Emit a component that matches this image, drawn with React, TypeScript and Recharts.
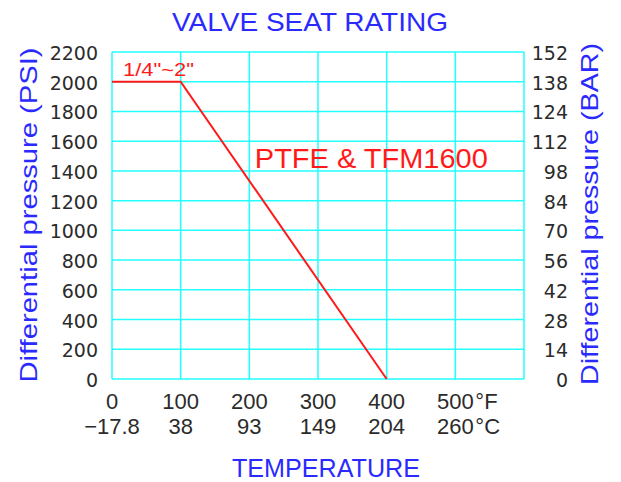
import { CartesianGrid, Line, LineChart, ReferenceDot, XAxis, YAxis } from "recharts";

// temperature axis (°F) and matching °C labels
const tempTicks = [0, 100, 200, 300, 400, 500, 600];
const tempF = ["0", "100", "200", "300", "400", "500"];
const tempC = ["\u221217.8", "38", "93", "149", "204", "260"];

// pressure axis (PSI) and matching BAR labels
const psiTicks = [0, 200, 400, 600, 800, 1000, 1200, 1400, 1600, 1800, 2000, 2200];
const barLabels = ["0", "14", "28", "42", "56", "70", "84", "98", "112", "124", "138", "152"];

// seat rating curve
const curveF = [0, 100, 400];
const curvePsi = [2000, 2000, 0];

const data = curveF.map((f, i) => ({ f, psi: curvePsi[i] }));

const BLUE = "#2a2aff";
const RED = "#ff1a1a";
const CYAN = "#22ffff";
const INK = "#2b2b2b";
const FONT = "'Liberation Sans', Arial, sans-serif";

function TempTick(props: any) {
  const { x, y, payload } = props;
  const i = tempTicks.indexOf(payload.value);
  if (i < 0 || i >= tempF.length) return null;
  const last = i === tempF.length - 1;
  return (
    <g fontFamily={FONT} fontSize={22} fill={INK}>
      <text x={x} y={y + 30} textAnchor="middle">{tempF[i]}</text>
      {last && <text x={x + 20} y={y + 30} textAnchor="start">°F</text>}
      <text x={x} y={y + 55} textAnchor="middle">{tempC[i]}</text>
      {last && <text x={x + 20} y={y + 55} textAnchor="start">°C</text>}
    </g>
  );
}

function PsiTick(props: any) {
  const { y, payload } = props;
  return (
    <text x={98} y={y + 8} textAnchor="end" fontFamily="'DejaVu Sans', sans-serif" fontSize={19} fill={INK}>
      {payload.value}
    </text>
  );
}

function BarTick(props: any) {
  const { y, payload } = props;
  const i = psiTicks.indexOf(payload.value);
  return (
    <text x={568} y={y + 8} textAnchor="end" fontFamily="'DejaVu Sans', sans-serif" fontSize={19} fill={INK}>
      {barLabels[i]}
    </text>
  );
}

export default function App() {
  return (
    <div style={{ position: "absolute", left: 0, top: 0, width: 621, height: 482, background: "#fff" }}>
      <LineChart width={621} height={482} data={data} margin={{ top: 52, right: 0, left: 0, bottom: 0 }}>
        <CartesianGrid yAxisId="left" stroke={CYAN} strokeWidth={1.5} />
        <XAxis
          dataKey="f"
          type="number"
          domain={[0, 600]}
          ticks={tempTicks}
          height={103}
          axisLine={false}
          tickLine={false}
          tickSize={0}
          tickMargin={0}
          tick={<TempTick />}
        />
        <YAxis
          yAxisId="left"
          domain={[0, 2200]}
          ticks={psiTicks}
          width={112}
          axisLine={false}
          tickLine={false}
          tick={<PsiTick />}
        />
        <YAxis
          yAxisId="right"
          orientation="right"
          domain={[0, 2200]}
          ticks={psiTicks}
          width={97}
          axisLine={false}
          tickLine={false}
          tick={<BarTick />}
        />
        {/* same curve on the BAR axis, kept invisible so that axis gets its ticks */}
        <Line
          yAxisId="right"
          dataKey="psi"
          type="linear"
          stroke="none"
          dot={false}
          activeDot={false}
          isAnimationActive={false}
        />
        <Line
          yAxisId="left"
          dataKey="psi"
          type="linear"
          stroke={RED}
          strokeWidth={2}
          dot={false}
          isAnimationActive={false}
        />
        <ReferenceDot
          yAxisId="left"
          x={16}
          y={2000}
          r={0}
          shape={(p: any) => (
            <text x={p.cx} y={p.cy - 6} fontFamily={FONT} fontSize={18} fill={RED} textLength={71} lengthAdjust="spacingAndGlyphs">
              1/4"~2"
            </text>
          )}
        />
        <ReferenceDot
          yAxisId="left"
          x={208}
          y={1420}
          r={0}
          shape={(p: any) => (
            <text x={p.cx} y={p.cy} fontFamily={FONT} fontSize={27} fill={RED} textLength={233} lengthAdjust="spacingAndGlyphs">
              PTFE &amp; TFM1600
            </text>
          )}
        />
      </LineChart>
      <svg width={621} height={482} style={{ position: "absolute", left: 0, top: 0, pointerEvents: "none" }}>
        <text x={310} y={31} textAnchor="middle" fontFamily={FONT} fontSize={26} fill={BLUE} textLength={276} lengthAdjust="spacingAndGlyphs">
          VALVE SEAT RATING
        </text>
        <text x={326} y={477} textAnchor="middle" fontFamily={FONT} fontSize={25} fill={BLUE} textLength={188} lengthAdjust="spacingAndGlyphs">
          TEMPERATURE
        </text>
        <text
          transform="translate(37 215) rotate(-90)"
          textAnchor="middle"
          fontFamily={FONT}
          fontSize={24}
          fill={BLUE}
          textLength={335}
          lengthAdjust="spacingAndGlyphs"
        >
          Differential pressure (PSI)
        </text>
        <text
          transform="translate(598 214) rotate(-90)"
          textAnchor="middle"
          fontFamily={FONT}
          fontSize={24}
          fill={BLUE}
          textLength={342}
          lengthAdjust="spacingAndGlyphs"
        >
          Differential pressure (BAR)
        </text>
      </svg>
    </div>
  );
}
